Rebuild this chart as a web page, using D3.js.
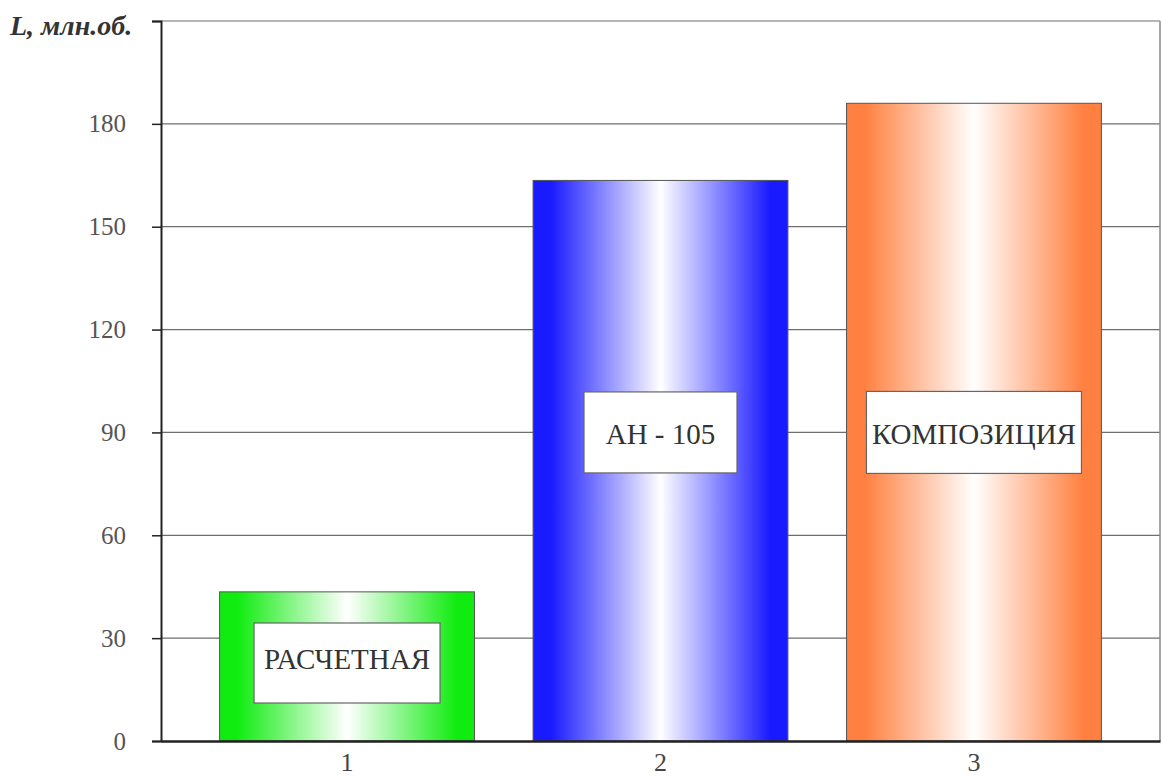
<!DOCTYPE html>
<html>
<head>
<meta charset="utf-8">
<script src="https://cdn.jsdelivr.net/npm/d3@7"></script>
<style>
  html, body { margin: 0; padding: 0; background: #fff; }
  svg { display: block; }
  text { font-family: "Liberation Serif", "DejaVu Serif", serif; }
</style>
</head>
<body>
<svg id="chart" width="1162" height="778"></svg>
<script>
// Service life by bearing type
const categories = ["1", "2", "3"];
const values = [43.5, 163.5, 186];
const barLabels = ["РАСЧЕТНАЯ", "АН - 105", "КОМПОЗИЦИЯ"];
const barColors = ["#10ec10", "#1a1aff", "#ff8040"];
const yTicks = [0, 30, 60, 90, 120, 150, 180];
const yTitle = "L, млн.об.";

const serif = "'Liberation Serif', 'Times New Roman', serif";
const svg = d3.select("#chart");
const plot = { left: 161, right: 1160, top: 21, bottom: 741 };

const x = d3.scaleBand().domain(categories).range([plot.left, plot.right])
  .paddingInner(0.187).paddingOuter(0.187);
const y = d3.scaleLinear().domain([0, 210]).range([plot.bottom, plot.top]);

// horizontal gradients: saturated at the edges, white in the middle
const defs = svg.append("defs");
barColors.forEach((c, i) => {
  const g = defs.append("linearGradient").attr("id", "grad" + i)
    .attr("x1", "0%").attr("x2", "100%").attr("y1", "0%").attr("y2", "0%");
  [[0, c], [0.07, c], [0.5, "#ffffff"], [0.93, c], [1, c]].forEach(([o, col]) =>
    g.append("stop").attr("offset", o).attr("stop-color", col));
});

// gridlines
svg.append("g").selectAll("line").data(yTicks.filter(d => d > 0).concat([210]))
  .join("line")
  .attr("x1", plot.left).attr("x2", plot.right)
  .attr("y1", d => y(d)).attr("y2", d => y(d))
  .attr("stroke", "#6e6e6e").attr("stroke-width", 1.2);

// right frame
svg.append("line").attr("x1", plot.right).attr("x2", plot.right)
  .attr("y1", plot.top).attr("y2", plot.bottom)
  .attr("stroke", "#8a8a8a").attr("stroke-width", 1.5);

// bars
svg.append("g").selectAll("rect").data(values).join("rect")
  .attr("x", (d, i) => x(categories[i]))
  .attr("width", x.bandwidth())
  .attr("y", d => y(d))
  .attr("height", d => y(0) - y(d))
  .attr("fill", (d, i) => `url(#grad${i})`)
  .attr("stroke", "#555").attr("stroke-width", 1);

// label boxes inside bars (v = box centre in data units, dy = baseline offset in px)
const boxes = [
  { w: 186, h: 80, v: 22.75, dy: 6 },
  { w: 153, h: 81, v: 90, dy: 12 },
  { w: 215, h: 82, v: 90, dy: 12 }
];
const lab = svg.append("g").selectAll("g").data(barLabels).join("g")
  .attr("transform", (d, i) => `translate(${x(categories[i]) + x.bandwidth() / 2},${y(boxes[i].v)})`);
lab.append("rect")
  .attr("x", (d, i) => -boxes[i].w / 2).attr("y", (d, i) => -boxes[i].h / 2)
  .attr("width", (d, i) => boxes[i].w).attr("height", (d, i) => boxes[i].h)
  .attr("fill", "#fff").attr("stroke", "#666").attr("stroke-width", 1.2);
lab.append("text")
  .attr("text-anchor", "middle").attr("y", (d, i) => boxes[i].dy)
  .style("font-family", serif)
  .style("font-size", "29px").attr("fill", "#333")
  .text(d => d);

// y axis
const yAxis = svg.append("g").attr("transform", `translate(${plot.left},0)`)
  .call(d3.axisLeft(y).tickValues(yTicks.concat([210])).tickSize(9).tickPadding(26)
    .tickFormat(d => d === 210 ? "" : d));
yAxis.select(".domain").attr("stroke", "#222").attr("stroke-width", 2);
yAxis.selectAll(".tick line").attr("stroke", "#222").attr("stroke-width", 1.5);
yAxis.selectAll(".tick text")
  .style("font-family", serif)
  .style("font-size", "25px").attr("fill", "#555");

// x axis
const xAxis = svg.append("g").attr("transform", `translate(0,${plot.bottom})`)
  .call(d3.axisBottom(x).tickSize(0).tickPadding(12));
xAxis.select(".domain").attr("stroke", "#222").attr("stroke-width", 2.5);
xAxis.selectAll(".tick text")
  .style("font-family", serif)
  .style("font-size", "26px").attr("fill", "#444");

// axis title
svg.append("text").attr("x", 10).attr("y", 35)
  .style("font-family", serif)
  .style("font-size", "28px").style("font-weight", "bold").style("font-style", "italic")
  .attr("fill", "#333").text(yTitle);
</script>
</body>
</html>
